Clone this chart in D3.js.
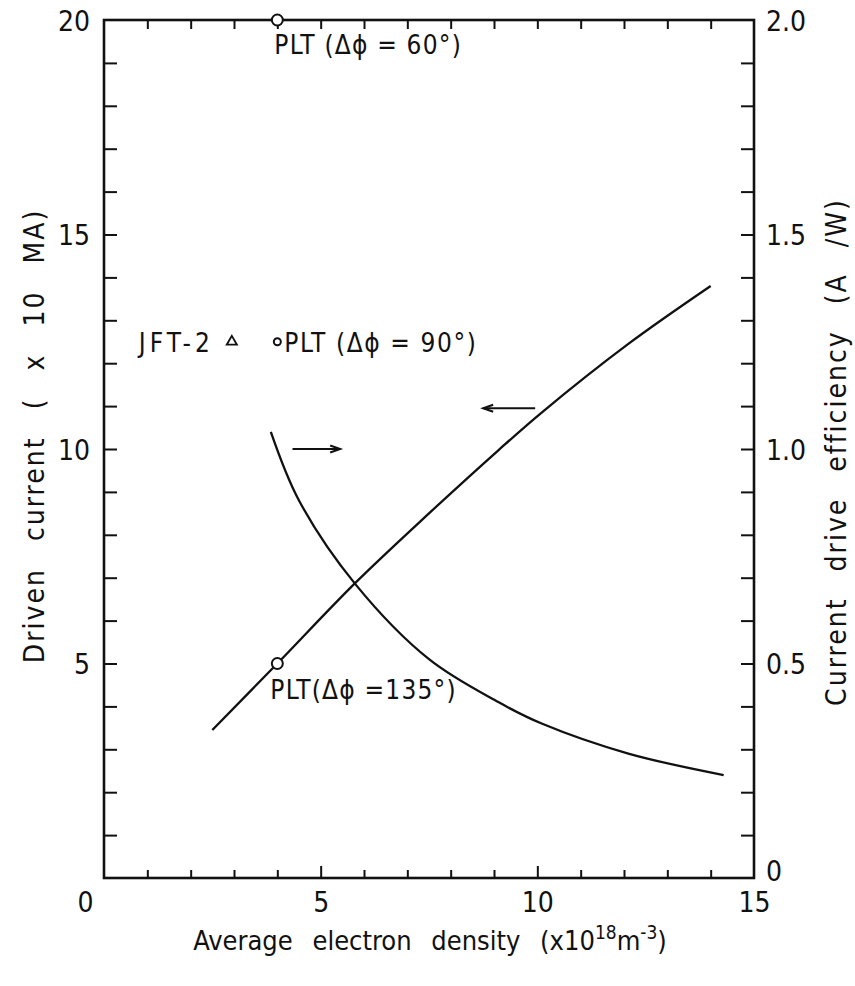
<!DOCTYPE html>
<html>
<head>
<meta charset="utf-8">
<script src="https://cdn.jsdelivr.net/npm/d3@7"></script>
<style>
  html, body { margin: 0; padding: 0; background: #fff; }
  svg text { font-family: "DejaVu Sans Condensed", "Liberation Sans Narrow", "DejaVu Sans", sans-serif; fill: #111; }
</style>
</head>
<body>
<svg id="chart" width="855" height="986"></svg>
<script>
// Driven current (x10 MA) vs average electron density (x10^18 m^-3)
const currentDensity = [2.5, 4.0, 5.8, 7.5, 9.1, 10.1, 12.1, 14.0];
const currentValues  = [3.45, 5.0, 6.88, 8.5, 9.97, 10.85, 12.45, 13.8];

// Current drive efficiency (A/W) vs average electron density
const effDensity = [3.85, 4.5, 5.8, 7.5, 9.1, 10.1, 12.1, 14.3];
const effValues  = [1.04, 0.88, 0.685, 0.51, 0.41, 0.36, 0.29, 0.24];

// Experimental points (left axis units)
const pltPoints = [
  { x: 4.0, y: 20.0, r: 5.5, label: "PLT (Δϕ = 60°)" },
  { x: 4.0, y: 12.5, r: 3.5, label: "PLT (Δϕ = 90°)" },
  { x: 4.0, y: 5.0,  r: 5.5, label: "PLT(Δϕ =135°)" }
];
const jftPoint = { x: 2.95, y: 12.5, label: "JFT-2" };

// Tick values and labels
const xMajor = [0, 5, 10, 15];
const xMinor = d3.range(0, 16, 1);
const yLeftMajor = [5, 10, 15, 20];
const yLeftMinor = d3.range(0, 21, 1);
const yRightMajor = [0, 0.5, 1.0, 1.5, 2.0];
const yRightMinor = d3.range(0, 21, 1).map(d => d / 10);

const svg = d3.select("#chart");
const plotLeft = 104, plotRight = 754, plotTop = 20, plotBottom = 878;

const x = d3.scaleLinear().domain([0, 15]).range([plotLeft, plotRight]);
const yL = d3.scaleLinear().domain([0, 20]).range([plotBottom, plotTop]);
const yR = d3.scaleLinear().domain([0, 2.0]).range([plotBottom, plotTop]);

const axisStroke = 2.6;
function styleAxis(g) {
  g.select(".domain").remove();
  g.selectAll(".tick line").attr("stroke", "#111").attr("stroke-width", 2);
}

// Frame
svg.append("rect")
  .attr("x", plotLeft).attr("y", plotTop)
  .attr("width", plotRight - plotLeft).attr("height", plotBottom - plotTop)
  .attr("fill", "none").attr("stroke", "#111").attr("stroke-width", axisStroke);

// Bottom axis: ticks point inward
svg.append("g").attr("transform", `translate(0,${plotBottom})`)
  .call(d3.axisBottom(x).tickValues(xMinor.filter(d => d % 5 !== 0)).tickSize(-8).tickFormat(""))
  .call(styleAxis);
const xLab = svg.append("g").attr("transform", `translate(0,${plotBottom})`)
  .call(d3.axisBottom(x).tickValues(xMajor).tickSize(-12).tickPadding(0).tickFormat(d => d))
  .call(styleAxis);
xLab.selectAll(".tick text")
  .attr("font-size", 28).attr("y", 24).attr("dy", "0.36em")
  .attr("dx", d => d === 0 ? -19 : 0);
xLab.selectAll(".tick").filter(d => d === 0 || d === 15).select("line").remove();

// Top axis
svg.append("g").attr("transform", `translate(0,${plotTop})`)
  .call(d3.axisTop(x).tickValues(xMinor.filter(d => d > 0 && d < 15)).tickSize(-9).tickFormat(""))
  .call(styleAxis);

// Left axis
const yLeftAxis = svg.append("g").attr("transform", `translate(${plotLeft},0)`)
  .call(d3.axisLeft(yL).tickValues(yLeftMinor.filter(d => d > 0 && d < 20)).tickSize(-13)
    .tickFormat(d => yLeftMajor.includes(d) ? d : ""))
  .call(styleAxis);
yLeftAxis.selectAll(".tick text").attr("font-size", 28).attr("x", -14).attr("dy", "0.36em");
svg.append("g").attr("transform", `translate(${plotLeft},0)`)
  .call(d3.axisLeft(yL).tickValues([20]).tickSize(0).tickFormat(d => d))
  .call(styleAxis)
  .selectAll(".tick text").attr("font-size", 28).attr("x", -14).attr("dy", "0.36em");

// Right axis
const yRightAxis = svg.append("g").attr("transform", `translate(${plotRight},0)`)
  .call(d3.axisRight(yR).tickValues(yRightMinor.filter(d => d > 0 && d < 2.0)).tickSize(-13)
    .tickFormat(d => yRightMajor.some(v => Math.abs(v - d) < 1e-9) ? d3.format(".1f")(d) : ""))
  .call(styleAxis);
yRightAxis.selectAll(".tick text").attr("font-size", 28).attr("x", 12).attr("dy", "0.36em");
svg.append("g").attr("transform", `translate(${plotRight},0)`)
  .call(d3.axisRight(yR).tickValues([0, 2.0]).tickSize(0)
    .tickFormat(d => d === 0 ? "0" : d3.format(".1f")(d)))
  .call(styleAxis)
  .selectAll(".tick text").attr("font-size", 28).attr("x", 12)
  .attr("dy", d => d === 0 ? "0.1em" : "0.36em");

// Curves
const currentLine = d3.line()
  .x((d, i) => x(currentDensity[i])).y(d => yL(d))
  .curve(d3.curveCatmullRom.alpha(0.5));
svg.append("path").datum(currentValues)
  .attr("d", currentLine)
  .attr("fill", "none").attr("stroke", "#111").attr("stroke-width", 2.3);

const effLine = d3.line()
  .x((d, i) => x(effDensity[i])).y(d => yR(d))
  .curve(d3.curveCatmullRom.alpha(0.5));
svg.append("path").datum(effValues)
  .attr("d", effLine)
  .attr("fill", "none").attr("stroke", "#111").attr("stroke-width", 2.3);

// Arrows pointing to the axis each curve belongs to
const arrows = [
  { x1: 4.35, x2: 5.45, y: 10.0, dir: 1 },
  { x1: 9.95, x2: 8.75, y: 10.95, dir: -1 }
];
arrows.forEach(a => {
  const y0 = yL(a.y);
  svg.append("line")
    .attr("x1", x(a.x1)).attr("x2", x(a.x2)).attr("y1", y0).attr("y2", y0)
    .attr("stroke", "#111").attr("stroke-width", 2);
  const tip = x(a.x2);
  svg.append("path")
    .attr("d", `M${tip - a.dir * 10},${y0 - 3.5} L${tip},${y0} L${tip - a.dir * 10},${y0 + 3.5}`)
    .attr("fill", "none").attr("stroke", "#111").attr("stroke-width", 2);
});

// PLT points and labels
svg.selectAll("circle.plt").data(pltPoints).enter().append("circle")
  .attr("class", "plt")
  .attr("cx", d => x(d.x)).attr("cy", d => yL(d.y)).attr("r", d => d.r)
  .attr("fill", "#fff").attr("stroke", "#111").attr("stroke-width", 2);

const labelOffsets = [
  { dx: -3, dy: 34, ls: 1.2 },
  { dx: 7, dy: 10, ls: 1.6 },
  { dx: -7, dy: 35, ls: 1.2 }
];
svg.selectAll("text.plt").data(pltPoints).enter().append("text")
  .attr("class", "plt")
  .attr("x", (d, i) => x(d.x) + labelOffsets[i].dx)
  .attr("y", (d, i) => yL(d.y) + labelOffsets[i].dy)
  .attr("font-size", 26)
  .attr("letter-spacing", (d, i) => labelOffsets[i].ls)
  .text(d => d.label);

// JFT-2 point and label
const tri = d3.symbol().type(d3.symbolTriangle).size(45);
svg.append("path")
  .attr("d", tri())
  .attr("transform", `translate(${x(jftPoint.x)},${yL(jftPoint.y)})`)
  .attr("fill", "#fff").attr("stroke", "#111").attr("stroke-width", 1.8);
svg.append("text")
  .attr("x", x(jftPoint.x) - 93).attr("y", yL(jftPoint.y) + 10)
  .attr("font-size", 26).attr("letter-spacing", 4)
  .text(jftPoint.label);

// Axis titles
svg.append("text")
  .attr("transform", `translate(44,436) rotate(-90)`)
  .attr("text-anchor", "middle").attr("font-size", 28)
  .attr("letter-spacing", 2).attr("word-spacing", 17)
  .text("Driven current  ( x 10 MA)");

svg.append("text")
  .attr("transform", `translate(846,452) rotate(-90)`)
  .attr("text-anchor", "middle").attr("font-size", 28)
  .attr("letter-spacing", 2).attr("word-spacing", 16)
  .text("Current drive efficiency  (A /W)");

const xt = svg.append("text")
  .attr("x", 430).attr("y", 950)
  .attr("text-anchor", "middle").attr("font-size", 27)
  .attr("word-spacing", 12);
xt.append("tspan").text("Average electron density  (x10");
xt.append("tspan").attr("dy", -11).attr("font-size", 19).text("18");
xt.append("tspan").attr("dy", 11).text("m");
xt.append("tspan").attr("dy", -11).attr("font-size", 19).text("-3");
xt.append("tspan").attr("dy", 11).text(")");
</script>
</body>
</html>
